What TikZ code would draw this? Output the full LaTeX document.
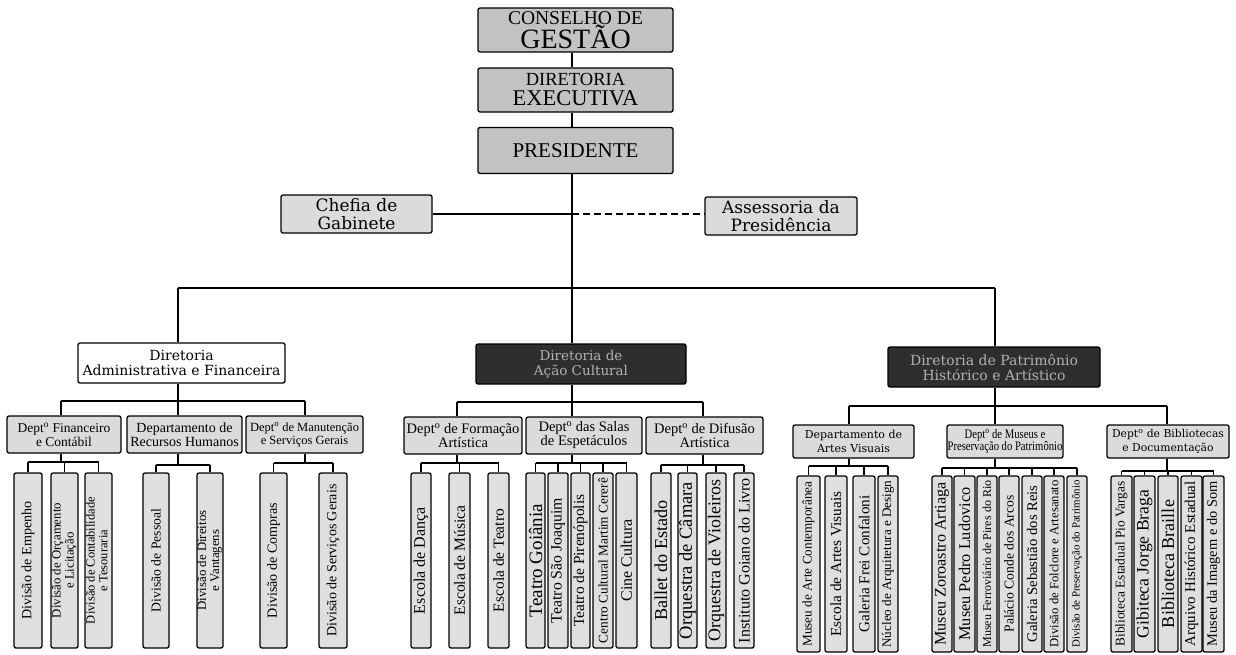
\documentclass[tikz,border=0pt]{standalone}
\usepackage{fontspec}
\usepackage{graphicx}
\setmainfont{Liberation Serif}
\newfontfamily\widefont{DejaVu Serif}
\newcommand\fs[2]{\fontsize{#1}{#2}\selectfont\lineskiplimit=-100pt\relax}
\newcommand\two[2]{{\lineskiplimit=0pt\relax\renewcommand\arraystretch{0.85}\begin{tabular}{@{}c@{}}#1\\#2\end{tabular}}}
% leaf: name, center, width, height, text length, text
\newcommand\lf[6]{%
  \node[leafbox, minimum width=#3pt, minimum height=#4pt] (#1) at (#2) {};
  \node[rotate=90, inner sep=0pt] at (#1) {\resizebox{#5pt}{!}{#6}};}
\tikzset{
  box/.style={draw, line width=1.3pt, rounded corners=2pt, inner sep=0pt, align=center},
  topbox/.style={box, fill=gray!48},
  lbox/.style={box, fill=gray!28},
  dbox/.style={box, fill=black!82, text=gray!60},
  wbox/.style={box, fill=white},
  leafbox/.style={box, fill=gray!25},
  conn/.style={line width=1.8pt},
  subconn/.style={line width=1.3pt},
}
\begin{document}
\begin{tikzpicture}[x=1pt,y=-1pt]
\useasboundingbox[fill=white] (0,0) rectangle (1236,654);

% ---- top level
\node[topbox, minimum width=195pt, minimum height=44pt, font=\fs{19.5}{24}] (cg) at (575.5,30) {CONSELHO DE\\{\fs{28}{28}GESTÃO}};
\node[topbox, minimum width=195pt, minimum height=44pt, font=\fs{18.5}{20}] (de) at (575.5,90) {DIRETORIA\\{\fs{22.5}{22.5}EXECUTIVA}};
\node[topbox, minimum width=195pt, minimum height=46pt, font=\fs{21}{21}] (pr) at (575.5,150.5) {PRESIDENTE};

\node[lbox, minimum width=151pt, minimum height=38pt, font=\widefont\fs{17}{18}] (ch) at (356.5,214) {Chefia de\\Gabinete};
\node[lbox, minimum width=152pt, minimum height=38pt, font=\widefont\fs{17}{18}] (as) at (781,216) {Assessoria da\\Presidência};

% ---- directorates
\node[wbox, minimum width=207pt, minimum height=40pt, font=\widefont\fs{14}{15}] (adm) at (181.5,363) {Diretoria\\Administrativa e Financeira};
\node[dbox, minimum width=210pt, minimum height=40pt, font=\widefont\fs{13.5}{15}] (ac) at (581,364) {Diretoria de\\Ação Cultural};
\node[dbox, minimum width=212pt, minimum height=40pt, font=\widefont\fs{14}{15}] (ph) at (994,367) {Diretoria de Patrimônio\\Histórico e Artístico};

% ---- departments
\node[lbox, minimum width=114pt, minimum height=37pt, font=\fs{13.5}{14}] (d1) at (64,434.5) {Dept\textsuperscript{o} Financeiro\\e Contábil};
\node[lbox, minimum width=115pt, minimum height=37pt, font=\fs{14}{14}] (d2) at (184.5,434.5) {Departamento de\\Recursos Humanos};
\node[lbox, minimum width=117pt, minimum height=37pt, font=\fs{12.5}{13}] (d3) at (304.5,434.5) {Dept\textsuperscript{o} de Manutenção\\e Serviços Gerais};
\node[lbox, minimum width=118pt, minimum height=37pt, font=\fs{14.5}{14}] (d4) at (463,435.5) {Dept\textsuperscript{o} de Formação\\Artística};
\node[lbox, minimum width=116pt, minimum height=37pt, font=\fs{14.5}{14}] (d5) at (584,435.5) {Dept\textsuperscript{o} das Salas\\de Espetáculos};
\node[lbox, minimum width=117pt, minimum height=37pt, font=\fs{14.5}{14}] (d6) at (704.5,435.5) {Dept\textsuperscript{o} de Difusão\\Artística};
\node[lbox, minimum width=121pt, minimum height=33pt, font=\widefont\fs{11}{14.5}] (d7) at (853.5,441.5) {Departamento de\\Artes Visuais};
\node[lbox, minimum width=116pt, minimum height=33pt, font=\fs{13}{13}] (d8) at (1005,441.5) {\scalebox{0.82}[1]{\two{Dept\textsuperscript{o} de Museus e}{Preservação do Patrimônio}}};
\node[lbox, minimum width=122pt, minimum height=33pt, font=\widefont\fs{10.8}{14.5}] (d9) at (1168,441.5) {Dept\textsuperscript{o} de Bibliotecas\\e Documentação};

% ---- leaves
\lf{l11}{28,560.5}{28}{175}{118}{Divisão de Empenho}
\lf{l12}{64.5,560.5}{27}{175}{115}{\two{Divisão de Orçamento}{e Licitação}}
\lf{l13}{98.5,560.5}{27}{175}{127}{\two{Divisão de Contabilidade}{e Tesouraria}}
\lf{l21}{156,560.5}{26}{175}{103}{Divisão de Pessoal}
\lf{l22}{210,560.5}{26}{175}{100}{\two{Divisão de Direitos}{e Vantagens}}
\lf{l31}{273.5,560.5}{27}{175}{115}{Divisão de Compras}
\lf{l32}{333,560.5}{28}{175}{152}{Divisão de Serviços Gerais}

\lf{l41}{421,560.5}{20}{175}{107}{Escola de Dança}
\lf{l42}{459.5,560.5}{21}{175}{110}{Escola de Música}
\lf{l43}{498.5,560.5}{21}{175}{103}{Escola de Teatro}
\lf{l51}{535.5,560.5}{19}{175}{113}{Teatro Goiânia}
\lf{l52}{558,560.5}{20}{175}{125}{Teatro São Joaquim}
\lf{l53}{580.5,560.5}{19}{175}{132}{Teatro de Pirenópolis}
\lf{l54}{603,560.5}{20}{175}{165}{Centro Cultural Martim Cererê}
\lf{l55}{626.5,560.5}{21}{175}{82}{Cine Cultura}
\lf{l61}{661,560.5}{20}{175}{120}{Ballet do Estado}
\lf{l62}{687.5,560.5}{19}{175}{157}{Orquestra de Câmara}
\lf{l63}{716,560.5}{20}{175}{162}{Orquestra de Violeiros}
\lf{l64}{744,560.5}{20}{175}{165}{Instituto Goiano do Livro}

\lf{l71}{808.5,564}{23}{176}{165}{Museu de Arte Contemporânea}
\lf{l72}{836,564}{22}{176}{145}{Escola de Artes Visuais}
\lf{l73}{864,564}{22}{176}{137}{Galeria Frei Confaloni}
\lf{l74}{888,564}{20}{176}{167}{Núcleo de Arquitetura e Design}
\lf{l81}{942,564}{20}{176}{163}{Museu Zoroastro Artiaga}
\lf{l82}{964.5,564}{21}{176}{153}{Museu Pedro Ludovico}
\lf{l83}{987,564}{20}{176}{167}{Museu Ferroviário de Pires do Rio}
\lf{l84}{1009,564}{20}{176}{137}{Palácio Conde dos Arcos}
\lf{l85}{1032,564}{20}{176}{157}{Galeria Sebastião dos Reis}
\lf{l86}{1054,564}{20}{176}{167}{Divisão de Folclore e Artesanato}
\lf{l87}{1077,564}{20}{176}{167}{Divisão de Preservação do Patrimônio}
\lf{l91}{1121.5,564}{21}{176}{165}{Biblioteca Estadual Pio Vargas}
\lf{l92}{1144.5,564}{21}{176}{148}{Gibiteca Jorge Braga}
\lf{l93}{1168,564}{20}{176}{128}{Biblioteca Braille}
\lf{l94}{1191.5,564}{21}{176}{165}{Arquivo Histórico Estadual}
\lf{l95}{1213.5,564}{21}{176}{165}{Museu da Imagem e do Som}

% ---- axes and bus levels
\coordinate (tk) at (572,0);
\coordinate (a1) at (61,0);
\coordinate (a2) at (178,0);
\coordinate (a3) at (305,0);
\coordinate (a4) at (457,0);
\coordinate (a6) at (703,0);
\coordinate (a7) at (849,0);
\coordinate (a8) at (995,0);
\coordinate (a9) at (1167,0);
\coordinate (mb) at (0,288);
\coordinate (lb) at (0,401);
\coordinate (cb) at (0,402);
\coordinate (rb) at (0,406);
\coordinate (s1) at (0,462);
\coordinate (s2) at (0,465);
\coordinate (s3) at (0,463);
\coordinate (s4) at (0,463);
\coordinate (s5) at (0,463);
\coordinate (s6) at (0,465);
\coordinate (s7) at (0,466);
\coordinate (s8) at (0,468);
\coordinate (s9) at (0,471);

% ---- connectors: top
\draw[conn] (cg.south -| tk) -- (de.north -| tk);
\draw[conn] (de.south -| tk) -- (pr.north -| tk);
\draw[conn] (pr.south -| tk) -- (ac.north -| tk);
\draw[conn] (ch.east) -- (ch.east -| tk);
\draw[conn, dash pattern=on 7pt off 4pt] (ch.east -| tk) -- (ch.east -| as.west);
\draw[conn] (a2 |- mb) -- (a8 |- mb);
\draw[conn] (a2 |- mb) -- (a2 |- adm.north);
\draw[conn] (a8 |- mb) -- (a8 |- ph.north);

% ---- connectors: departments
\draw[conn] (a2 |- adm.south) -- (a2 |- d2.north);
\draw[conn] (a1 |- lb) -- (a3 |- lb);
\draw[conn] (a1 |- lb) -- (a1 |- d1.north);
\draw[conn] (a3 |- lb) -- (a3 |- d3.north);
\draw[conn] (tk |- ac.south) -- (tk |- d5.north);
\draw[conn] (a4 |- cb) -- (a6 |- cb);
\draw[conn] (a4 |- cb) -- (a4 |- d4.north);
\draw[conn] (a6 |- cb) -- (a6 |- d6.north);
\draw[conn] (a8 |- ph.south) -- (a8 |- d8.north);
\draw[conn] (a7 |- rb) -- (a9 |- rb);
\draw[conn] (a7 |- rb) -- (a7 |- d7.north);
\draw[conn] (a9 |- rb) -- (a9 |- d9.north);

% ---- connectors: leaves
\draw[subconn] (a1 |- d1.south) -- (a1 |- s1);
\draw[subconn] (l11.north |- s1) -- (l13.north |- s1);
\foreach \n in {l11,l12,l13} \draw[subconn] (\n.north |- s1) -- (\n.north);
\draw[subconn] (a2 |- d2.south) -- (a2 |- s2);
\draw[subconn] (l21.north |- s2) -- (l22.north |- s2);
\foreach \n in {l21,l22} \draw[subconn] (\n.north |- s2) -- (\n.north);
\draw[subconn] (a3 |- d3.south) -- (a3 |- s3);
\draw[subconn] (l31.north |- s3) -- (l32.north |- s3);
\foreach \n in {l31,l32} \draw[subconn] (\n.north |- s3) -- (\n.north);
\draw[subconn] (a4 |- d4.south) -- (a4 |- s4);
\draw[subconn] (l41.north |- s4) -- (l43.north |- s4);
\foreach \n in {l41,l42,l43} \draw[subconn] (\n.north |- s4) -- (\n.north);
\draw[subconn] (tk |- d5.south) -- (tk |- s5);
\draw[subconn] (l51.north |- s5) -- (l55.north |- s5);
\foreach \n in {l51,l52,l53,l54,l55} \draw[subconn] (\n.north |- s5) -- (\n.north);
\draw[subconn] (a6 |- d6.south) -- (a6 |- s6);
\draw[subconn] (l61.north |- s6) -- (l64.north |- s6);
\foreach \n in {l61,l62,l63,l64} \draw[subconn] (\n.north |- s6) -- (\n.north);
\draw[subconn] (a7 |- d7.south) -- (a7 |- s7);
\draw[subconn] (l71.north |- s7) -- (l74.north |- s7);
\foreach \n in {l71,l72,l73,l74} \draw[subconn] (\n.north |- s7) -- (\n.north);
\draw[subconn] (a8 |- d8.south) -- (a8 |- s8);
\draw[subconn] (l81.north |- s8) -- (l87.north |- s8);
\foreach \n in {l81,l82,l83,l84,l85,l86,l87} \draw[subconn] (\n.north |- s8) -- (\n.north);
\draw[subconn] (a9 |- d9.south) -- (a9 |- s9);
\draw[subconn] (l91.north |- s9) -- (l95.north |- s9);
\foreach \n in {l91,l92,l93,l94,l95} \draw[subconn] (\n.north |- s9) -- (\n.north);
\end{tikzpicture}
\end{document}
